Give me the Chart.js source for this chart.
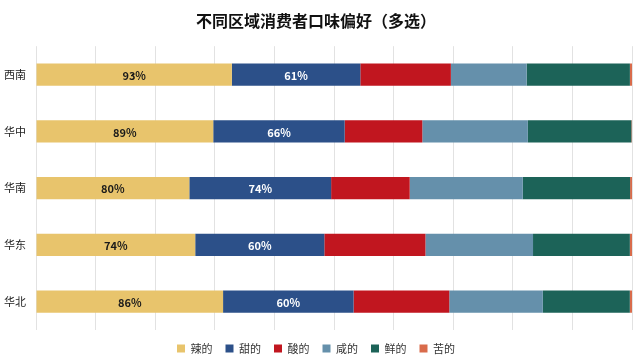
<!DOCTYPE html>
<html>
<head>
<meta charset="utf-8">
<script src="https://cdn.jsdelivr.net/npm/chart.js@4/dist/chart.umd.min.js"></script>
<style>
  html, body { margin: 0; padding: 0; background: #fff; }
  #wrap { width: 640px; height: 360px; }
</style>
</head>
<body>
<div id="wrap"><canvas id="myChart" width="640" height="360"></canvas></div>
<script>
const regions = ["西南", "华中", "华南", "华东", "华北"];
const flavors = ["辣的", "甜的", "酸的", "咸的", "鲜的", "苦的"];
const spicy = [93, 89, 80, 74, 86];
const sweet = [61, 66, 74, 60, 60];
const sour = [43, 39, 41, 47, 44];
const salty = [36, 53, 59, 50, 43];
const umami = [49, 52, 56, 45, 40];
const bitter = [1, 0.3, 1, 1, 1];
const colors = ["#E8C46C", "#2C5089", "#C1161F", "#6590AB", "#1C6358", "#D96B4B"];

const series = [spicy, sweet, sour, salty, umami, bitter];
const totals = regions.map((r, i) => series.reduce((s, arr) => s + arr[i], 0));

const FONT = "'Noto Sans CJK SC', 'Noto Sans', sans-serif";

// value labels on the first two series only
const labelPlugin = {
    id: 'barLabels',
    afterDatasetsDraw(chart) {
        const ctx = chart.ctx;
        ctx.save();
        ctx.font = "bold 11px " + FONT;
        ctx.textAlign = "center";
        ctx.textBaseline = "middle";
        [0, 1].forEach(di => {
            const meta = chart.getDatasetMeta(di);
            meta.data.forEach((bar, i) => {
                const x = (bar.x + bar.base) / 2;
                ctx.fillStyle = di === 0 ? "#1a1a1a" : "#ffffff";
                ctx.fillText(series[di][i] + "%", x, bar.y + 1);
            });
        });
        ctx.restore();
    }
};

new Chart(document.getElementById("myChart").getContext("2d"), {
    type: "bar",
    data: {
        labels: regions,
        datasets: flavors.map((name, k) => ({
            label: name,
            backgroundColor: colors[k],
            data: series[k].map((v, i) => v / totals[i] * 100),
            barPercentage: 0.39,
            categoryPercentage: 1.0,
            borderWidth: 0
        }))
    },
    options: {
        indexAxis: "y",
        responsive: false,
        animation: false,
        layout: { padding: { left: 0, right: 8, top: 0, bottom: -4 } },
        plugins: {
            title: {
                display: true,
                text: "不同区域消费者口味偏好（多选）",
                font: { family: FONT, size: 16, weight: "bold" },
                color: "#111",
                padding: { top: 11, bottom: 16 }
            },
            legend: {
                position: "bottom",
                labels: {
                    boxWidth: 8,
                    boxHeight: 8,
                    padding: 13,
                    color: "#333",
                    font: { family: FONT, size: 11 }
                }
            },
            tooltip: { enabled: false }
        },
        scales: {
            x: {
                stacked: true,
                min: 0,
                max: 100,
                ticks: { display: false, stepSize: 10 },
                grid: { color: "#e2e2e2", drawTicks: false },
                border: { display: false }
            },
            y: {
                stacked: true,
                ticks: { color: "#222", font: { family: FONT, size: 11 }, padding: 10 },
                grid: { display: false, drawTicks: false },
                border: { display: false },
                afterFit(scale) { scale.width = 36; }
            }
        }
    },
    plugins: [labelPlugin]
});
</script>
</body>
</html>
